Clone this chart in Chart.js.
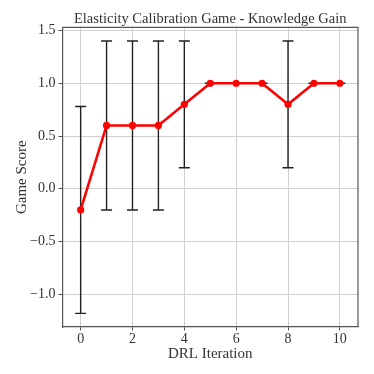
<!DOCTYPE html>
<html>
<head>
<meta charset="utf-8">
<script src="https://cdn.jsdelivr.net/npm/chart.js@4.4.1/dist/chart.umd.min.js"></script>
<style>
  html, body { margin: 0; padding: 0; background: #fff; }
  #wrap { width: 374px; height: 374px; }
</style>
</head>
<body>
<div id="wrap"><canvas id="chart"></canvas></div>
<script>
// --- data ---
const iterations = [0, 1, 2, 3, 4, 5, 6, 7, 8, 9, 10];
const scores     = [-0.2, 0.6, 0.6, 0.6, 0.8, 1.0, 1.0, 1.0, 0.8, 1.0, 1.0];
const errors     = [0.98, 0.8, 0.8, 0.8, 0.6, 0.0, 0.0, 0.0, 0.6, 0.0, 0.0];
const xTicks = [0, 2, 4, 6, 8, 10];
const yTicks = [-1.0, -0.5, 0.0, 0.5, 1.0, 1.5];

const FONT = "'Liberation Serif', 'DejaVu Serif', serif";
const TEXT = '#333';

// error bars drawn under the line, using the chart's scales
const errorBars = {
    id: 'errorBars',
    beforeDatasetsDraw(chart) {
        const ctx = chart.ctx;
        const xs = chart.scales.x, ys = chart.scales.y;
        ctx.save();
        ctx.strokeStyle = '#222';
        ctx.lineWidth = 1.4;
        iterations.forEach((it, i) => {
            const px = xs.getPixelForValue(it);
            const top = ys.getPixelForValue(scores[i] + errors[i]);
            const bot = ys.getPixelForValue(scores[i] - errors[i]);
            ctx.beginPath();
            ctx.moveTo(px, top); ctx.lineTo(px, bot);
            ctx.moveTo(px - 5.5, top); ctx.lineTo(px + 5.5, top);
            ctx.moveTo(px - 5.5, bot); ctx.lineTo(px + 5.5, bot);
            ctx.stroke();
        });
        ctx.restore();
    }
};

// top and right spines (matplotlib-style closed box)
const frame = {
    id: 'frame',
    afterDatasetsDraw(chart) {
        const { left, right, top, bottom } = chart.chartArea;
        const ctx = chart.ctx;
        ctx.save();
        ctx.strokeStyle = '#555';
        ctx.lineWidth = 1.2;
        ctx.beginPath();
        ctx.moveTo(left, top); ctx.lineTo(right, top); ctx.lineTo(right, bottom);
        ctx.stroke();
        ctx.restore();
    }
};

new Chart(document.getElementById('chart'), {
    type: 'line',
    data: {
        datasets: [{
            data: iterations.map((x, i) => ({ x: x, y: scores[i] })),
            borderColor: '#ff0000',
            backgroundColor: '#ff0000',
            borderWidth: 2.6,
            pointRadius: 3.6,
            pointHoverRadius: 3.6,
            pointBorderWidth: 0,
            tension: 0
        }]
    },
    options: {
        responsive: true,
        maintainAspectRatio: false,
        animation: false,
        layout: { padding: { left: 13, right: 16, top: 0, bottom: 11 } },
        plugins: {
            legend: { display: false },
            tooltip: { enabled: false },
            title: {
                display: true,
                text: 'Elasticity Calibration Game - Knowledge Gain',
                fullSize: false,
                color: TEXT,
                font: { family: FONT, size: 14.5, weight: 'normal' },
                padding: { top: 10, bottom: 0 }
            }
        },
        scales: {
            x: {
                type: 'linear',
                min: -0.7,
                max: 10.7,
                afterBuildTicks: axis => { axis.ticks = xTicks.map(v => ({ value: v })); },
                afterFit: axis => { axis.height = 36; },
                ticks: {
                    color: TEXT,
                    font: { family: FONT, size: 14 },
                    padding: 0,
                    maxRotation: 0,
                    callback: v => String(v)
                },
                grid: { color: '#d0d0d0', lineWidth: 1, tickColor: '#555', tickLength: 3.5 },
                border: { color: '#555', width: 1.2 },
                title: {
                    display: true,
                    text: 'DRL Iteration',
                    color: TEXT,
                    font: { family: FONT, size: 15 },
                    padding: { top: 0, bottom: 0 }
                }
            },
            y: {
                type: 'linear',
                min: -1.309,
                max: 1.529,
                afterBuildTicks: axis => { axis.ticks = yTicks.map(v => ({ value: v })); },
                afterFit: axis => { axis.width = 49.5; },
                ticks: {
                    color: TEXT,
                    font: { family: FONT, size: 14 },
                    padding: 3,
                    callback: v => (v < 0 ? '\u2212' + Math.abs(v).toFixed(1) : v.toFixed(1))
                },
                grid: { color: '#d0d0d0', lineWidth: 1, tickColor: '#555', tickLength: 4 },
                border: { color: '#555', width: 1.2 },
                title: {
                    display: true,
                    text: 'Game Score',
                    color: TEXT,
                    font: { family: FONT, size: 15 },
                    padding: { top: 0, bottom: 0 }
                }
            }
        }
    },
    plugins: [errorBars, frame]
});
</script>
</body>
</html>
